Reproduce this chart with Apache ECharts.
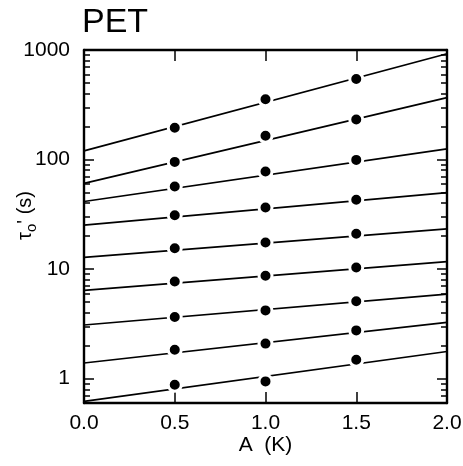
<!DOCTYPE html>
<html>
<head>
<meta charset="utf-8">
<title>PET</title>
<script src="https://cdn.jsdelivr.net/npm/echarts@6/dist/echarts.min.js"></script>
<style>
  html, body { margin: 0; padding: 0; background: #fff; }
  #chart { width: 463px; height: 466px; }
</style>
</head>
<body>
<div id="chart"></div>
<script>
// Relaxation time tau0' of PET versus amplitude A, one curve per condition (top to bottom)
const amplitudes = [0.5, 1.0, 1.5];
const curveValues = [
  [195, 355, 544],
  [95.2, 165, 232],
  [56.7, 77.7, 99.3],
  [31.0, 36.5, 42.9],
  [15.5, 17.5, 21.0],
  [7.71, 8.69, 10.35],
  [3.65, 4.20, 5.09],
  [1.84, 2.09, 2.76],
  [0.88, 0.945, 1.49]
];
// Fitted lines, evaluated at A = 0 and A = 2
const fitA = [0, 2];
const fitStart = [120, 60.6, 41.4, 25.2, 12.8, 6.41, 3.09, 1.39, 0.621];
const fitEnd = [925, 367, 125, 50.0, 23.3, 11.7, 5.92, 3.26, 1.77];

const yMajor = [1, 10, 100, 1000];
const yMinor = [0.7, 0.8, 0.9, 2, 3, 4, 5, 6, 7, 8, 9, 20, 30, 40, 50, 60, 70, 80, 90,
  200, 300, 400, 500, 600, 700, 800, 900];

const FONT = '"Liberation Sans", Arial, sans-serif';
const frameStyle = { color: '#000', width: 2.4 };
const tickStyle = { color: '#000', width: 1.5 };

function yAxisDef(position, ticks, len, showLabel, showLine) {
  return {
    type: 'log', logBase: 10, min: 0.6, max: 1000, position: position,
    axisLine: { show: showLine, lineStyle: frameStyle },
    axisTick: { show: true, inside: true, length: len, customValues: ticks, lineStyle: tickStyle },
    axisLabel: { show: showLabel, customValues: yMajor, margin: 14,
      fontFamily: FONT, fontSize: 21, color: '#000', formatter: v => String(v) },
    splitLine: { show: false }
  };
}

const yAxes = [
  Object.assign(yAxisDef('left', yMajor, 10, true, true), {
    name: "{a|τ}{s|o}{a|' (s)}",
    nameLocation: 'middle', nameGap: 45, nameRotate: 90, nameMoveOverlap: false,
    nameTextStyle: {
      fontFamily: FONT, fontSize: 20, color: '#000', padding: [0, 0, 0, 22],
      rich: {
        a: { fontFamily: FONT, fontSize: 20, lineHeight: 28, verticalAlign: 'middle', color: '#000' },
        s: { fontFamily: FONT, fontSize: 15, lineHeight: 28, verticalAlign: 'bottom', color: '#000' }
      }
    }
  }),
  yAxisDef('left', yMinor, 6, false, false),
  yAxisDef('right', yMajor, 10, false, true),
  yAxisDef('right', yMinor, 6, false, false)
];

function xAxisDef(position, showLabel) {
  return {
    type: 'value', min: 0, max: 2, interval: 0.5, position: position,
    axisLine: { show: true, lineStyle: frameStyle },
    axisTick: { show: true, inside: true, length: 11, lineStyle: tickStyle },
    axisLabel: { show: showLabel, margin: 10, fontFamily: FONT, fontSize: 21, color: '#000',
      formatter: v => v.toFixed(1) },
    splitLine: { show: false }
  };
}

const xAxes = [
  Object.assign(xAxisDef('bottom', true), {
    name: 'A  (K)', nameLocation: 'middle', nameGap: 32, nameMoveOverlap: false,
    nameTextStyle: { fontFamily: FONT, fontSize: 21, color: '#000' }
  }),
  xAxisDef('top', false)
];

const series = [];
curveValues.forEach((vals, i) => {
  series.push({
    type: 'line', name: 'fit' + (i + 1), xAxisIndex: 0, yAxisIndex: 0,
    data: fitA.map((a, k) => [a, k === 0 ? fitStart[i] : fitEnd[i]]),
    showSymbol: false, symbol: 'none', silent: true, z: 2,
    lineStyle: { color: '#000', width: 1.7 }
  });
  series.push({
    type: 'scatter', name: 'data' + (i + 1), xAxisIndex: 0, yAxisIndex: 0,
    data: amplitudes.map((a, k) => [a, vals[k]]),
    symbol: 'circle', symbolSize: 13, z: 3,
    itemStyle: { color: '#000', borderColor: '#fff', borderWidth: 3, opacity: 1 }
  });
});

const chart = echarts.init(document.getElementById('chart'), null, { renderer: 'canvas' });
chart.setOption({
  animation: false,
  backgroundColor: '#fff',
  title: {
    text: 'PET', left: 77, top: 1,
    textStyle: { fontFamily: FONT, fontSize: 34, fontWeight: 'normal', color: '#000' }
  },
  grid: { left: 84, right: 16, top: 50, bottom: 63, outerBoundsMode: 'none' },
  xAxis: xAxes,
  yAxis: yAxes,
  series: series
});
</script>
</body>
</html>
